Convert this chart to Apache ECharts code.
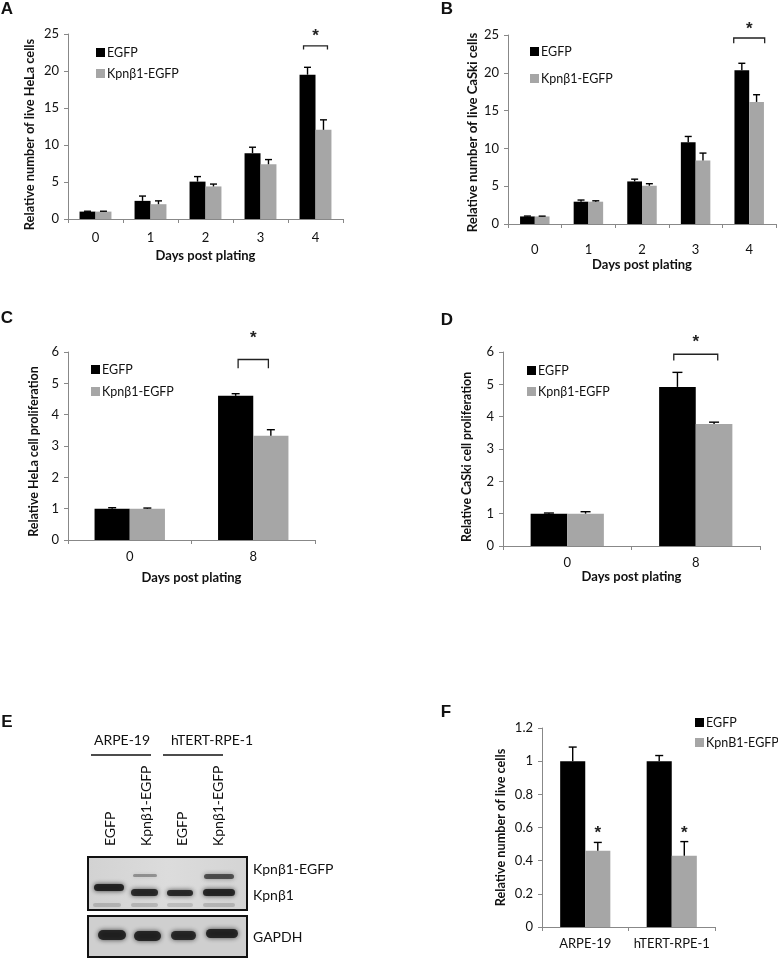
<!DOCTYPE html>
<html><head><meta charset="utf-8">
<script src="https://cdn.jsdelivr.net/npm/echarts@6/dist/echarts.min.js"></script>
<style>html,body{margin:0;padding:0;background:#fff}#c{width:778px;height:959px}</style>
</head><body><div id="c"></div>
<script>
// ---- categories ----
const daysAB = ['0', '1', '2', '3', '4'];
const daysCD = ['0', '8'];
const linesF = ['ARPE-19', 'hTERT-RPE-1'];
const legendMain = ['EGFP', 'Kpnβ1-EGFP'];
const legendF = ['EGFP', 'KpnB1-EGFP'];
// ---- panel A (HeLa, live cells) ----
const aEgfp = [1.0, 2.45, 5.05, 8.9, 19.5];
const aEgfpErr = [0.05, 0.65, 0.68, 0.8, 1.0];
const aKpn = [1.0, 2.0, 4.4, 7.4, 12.05];
const aKpnErr = [0.05, 0.45, 0.32, 0.63, 1.35];
// ---- panel B (CaSki, live cells) ----
const bEgfp = [1.0, 2.95, 5.63, 10.83, 20.33];
const bEgfpErr = [0.05, 0.22, 0.3, 0.75, 0.93];
const bKpn = [1.0, 2.95, 5.06, 8.4, 16.15];
const bKpnErr = [0.04, 0.12, 0.27, 0.98, 0.95];
// ---- panel C (HeLa proliferation) ----
const cEgfp = [1.0, 4.6];
const cEgfpErr = [0.03, 0.07];
const cKpn = [1.0, 3.33];
const cKpnErr = [0.02, 0.19];
// ---- panel D (CaSki proliferation) ----
const dEgfp = [1.0, 4.92];
const dEgfpErr = [0.02, 0.45];
const dKpn = [1.0, 3.77];
const dKpnErr = [0.06, 0.06];
// ---- panel F (RPE lines) ----
const fEgfp = [1.0, 1.0];
const fEgfpErr = [0.085, 0.034];
const fKpn = [0.46, 0.43];
const fKpnErr = [0.05, 0.085];
const fStarLevel = [0.567, 0.567];
// ---- significance brackets: [category index, bracket level, drop] ----
const aBracket = [4, 23.4, 0.5];
const bBracket = [4, 24.6, 0.7];
const cBracket = [1, 5.76, 0.28];
const dBracket = [1, 5.93, 0.19];
const aStar = 24.7, bStar = 25.7, cStar = 6.45, dStar = 6.31;
// ---- axis ranges ----
const yMaxAB = 25, yStepAB = 5;
const yMaxCD = 6, yStepCD = 1;
const yMaxF = 1.2, yStepF = 0.2;

const FONT = 'Lato';
const STAR_FONT = 'bold 17px "Liberation Sans", Arial';
const AXIS_COLOR = '#888';
const GRAY = '#a6a6a6';

const panels = [
  {cats: daysAB, e: aEgfp, ee: aEgfpErr, k: aKpn, ke: aKpnErr, max: yMaxAB, step: yStepAB,
   grid: {left: 68, top: 34, width: 275, height: 185}, gap: 0.42, cap: 7,
   yName: 'Relative number of live HeLa cells', yGap: 32, yFs: 12.8, yShift: 16,
   xName: 'Days post plating', xGap: 30, xMargin: 12,
   legend: {left: 91, top: 41, gap: 8}, legendData: legendMain,
   bracket: aBracket, star: aStar, hw: 0.75},
  {cats: daysAB, e: bEgfp, ee: bEgfpErr, k: bKpn, ke: bKpnErr, max: yMaxAB, step: yStepAB,
   grid: {left: 508, top: 35, width: 268, height: 189}, gap: 0.45, cap: 7,
   yName: 'Relative number of live CaSki cells', yGap: 29, yFs: 13.2, yShift: 6,
   xName: 'Days post plating', xGap: 34, xMargin: 19,
   legend: {left: 525, top: 40, gap: 14}, legendData: legendMain,
   bracket: bBracket, star: bStar, hw: 1.05},
  {cats: daysCD, e: cEgfp, ee: cEgfpErr, k: cKpn, ke: cKpnErr, max: yMaxCD, step: yStepCD,
   grid: {left: 68, top: 352, width: 247, height: 188}, gap: 0.43, cap: 8,
   yName: 'Relative HeLa cell proliferation', yGap: 28, yFs: 12.5, yShift: 11,
   xName: 'Days post plating', xGap: 31, xMargin: 10,
   legend: {left: 86, top: 358, gap: 9}, legendData: legendMain,
   bracket: cBracket, star: cStar, hw: 0.43},
  {cats: daysCD, e: dEgfp, ee: dEgfpErr, k: dKpn, ke: dKpnErr, max: yMaxCD, step: yStepCD,
   grid: {left: 503, top: 352, width: 257, height: 194}, gap: 0.43, cap: 10,
   yName: 'Relative CaSki cell proliferation', yGap: 30, yFs: 12.3, yShift: 16,
   xName: 'Days post plating', xGap: 18, xMargin: 10,
   legend: {left: 522, top: 359, gap: 8}, legendData: legendMain,
   bracket: dBracket, star: dStar, hw: 0.6},
  {cats: linesF, e: fEgfp, ee: fEgfpErr, k: fKpn, ke: fKpnErr, max: yMaxF, step: yStepF,
   grid: {left: 542, top: 728, width: 173, height: 199}, gap: 0.42, cap: 8,
   yName: 'Relative number of live cells', yGap: 35, yFs: 12.7, yShift: 0,
   xName: '', xGap: 0, xMargin: 10,
   legend: {left: 690, top: 711, gap: 7}, legendData: legendF,
   stars: fStarLevel}
];

function errRender(gap, cap) {
  return function (params, api) {
    const c = api.value(0), v = api.value(1), e = api.value(2), side = api.value(3);
    const band = api.size([1, 0])[0];
    const bw = band * (1 - gap) / 2;
    const p0 = api.coord([c, v]);
    const p1 = api.coord([c, v + e]);
    const x = p0[0] + side * bw / 2;
    const st = {stroke: '#000', lineWidth: 1.4};
    return {type: 'group', children: [
      {type: 'line', shape: {x1: x, y1: p0[1], x2: x, y2: p1[1]}, style: st},
      {type: 'line', shape: {x1: x - cap / 2, y1: p1[1], x2: x + cap / 2, y2: p1[1]}, style: st}
    ]};
  };
}
function bracketRender(gap, hwFrac) {
  return function (params, api) {
    const c = api.value(0), lvl = api.value(1), drop = api.value(2), starV = api.value(3);
    const band = api.size([1, 0])[0];
    const bw = band * (1 - gap) / 2;
    const p = api.coord([c, lvl]);
    const pd = api.coord([c, lvl - drop]);
    const ps = api.coord([c, starV]);
    const hw = bw * hwFrac;
    return {type: 'group', children: [
      {type: 'polyline', shape: {points: [[p[0] - hw, pd[1]], [p[0] - hw, p[1]], [p[0] + hw, p[1]], [p[0] + hw, pd[1]]]},
       style: {stroke: '#222', lineWidth: 1.3, fill: null}},
      {type: 'text', style: {text: '*', x: p[0], y: ps[1], align: 'center', verticalAlign: 'middle',
       font: STAR_FONT, fill: '#222'}}
    ]};
  };
}
function starRender(gap) {
  return function (params, api) {
    const c = api.value(0), s = api.value(1);
    const band = api.size([1, 0])[0];
    const bw = band * (1 - gap) / 2;
    const p = api.coord([c, s]);
    return {type: 'text', style: {text: '*', x: p[0] + bw / 2, y: p[1], align: 'center', verticalAlign: 'middle',
      font: STAR_FONT, fill: '#222'}};
  };
}

const option = {
  animation: false,
  textStyle: {fontFamily: FONT},
  grid: [], xAxis: [], yAxis: [], legend: [], series: [],
  graphic: []
};

panels.forEach((p, i) => {
  option.grid.push(Object.assign({containLabel: false}, p.grid));
  option.xAxis.push({
    type: 'category', gridIndex: i, data: p.cats,
    axisLine: {lineStyle: {color: AXIS_COLOR, width: 1}},
    axisTick: {show: true, length: 4, lineStyle: {color: AXIS_COLOR}},
    axisLabel: {color: '#111', fontSize: 13, fontFamily: FONT, margin: p.xMargin, interval: 0},
    name: p.xName, nameLocation: 'middle', nameGap: p.xGap,
    nameTextStyle: {fontWeight: 'bold', fontSize: 13, color: '#111', fontFamily: FONT}
  });
  option.yAxis.push({
    type: 'value', gridIndex: i, min: 0, max: p.max, interval: p.step,
    axisLine: {show: true, lineStyle: {color: AXIS_COLOR, width: 1}},
    axisTick: {show: true, length: 4, lineStyle: {color: AXIS_COLOR}},
    splitLine: {show: false},
    axisLabel: {color: '#111', fontSize: 13, fontFamily: FONT, margin: 9},
    name: p.yName, nameLocation: 'middle', nameGap: p.yGap, nameRotate: 90,
    nameTextStyle: {fontWeight: 'bold', fontSize: p.yFs, color: '#111', fontFamily: FONT,
      padding: [0, p.yShift, 0, 0]}
  });
  option.legend.push({
    left: p.legend.left, top: p.legend.top, orient: 'vertical', icon: 'rect',
    itemWidth: 9, itemHeight: 9, itemGap: p.legend.gap, data: p.legendData,
    selectedMode: false,
    textStyle: {fontSize: 12.5, fontFamily: FONT, color: '#111', padding: [0, 0, 0, -3]}
  });
  const gapPct = Math.round(p.gap * 100) + '%';
  option.series.push({
    type: 'bar', name: p.legendData[0], xAxisIndex: i, yAxisIndex: i, data: p.e,
    itemStyle: {color: '#000'}, barGap: '0%', barCategoryGap: gapPct
  });
  option.series.push({
    type: 'bar', name: p.legendData[1], xAxisIndex: i, yAxisIndex: i, data: p.k,
    itemStyle: {color: GRAY}, barGap: '0%', barCategoryGap: gapPct
  });
  const errData = p.e.map((v, j) => [j, v, p.ee[j], -1]).concat(p.k.map((v, j) => [j, v, p.ke[j], 1]));
  option.series.push({
    type: 'custom', xAxisIndex: i, yAxisIndex: i, data: errData, clip: false, z: 5,
    renderItem: errRender(p.gap, p.cap), encode: {x: 0, y: 1}, silent: true
  });
  if (p.bracket) {
    option.series.push({
      type: 'custom', xAxisIndex: i, yAxisIndex: i, clip: false, z: 5, silent: true,
      data: [[p.bracket[0], p.bracket[1], p.bracket[2], p.star]],
      renderItem: bracketRender(p.gap, p.hw), encode: {x: 0, y: 1}
    });
  }
  if (p.stars) {
    option.series.push({
      type: 'custom', xAxisIndex: i, yAxisIndex: i, clip: false, z: 5, silent: true,
      data: p.stars.map((s, j) => [j, s]),
      renderItem: starRender(p.gap), encode: {x: 0, y: 1}
    });
  }
});

// ---- panel letters ----
const letters = [['A', 7, 9], ['B', 447, 9], ['C', 7, 318], ['D', 447, 320], ['E', 7, 722], ['F', 446, 712]];
letters.forEach(l => option.graphic.push({
  type: 'text', x: l[1], y: l[2],
  style: {text: l[0], font: 'bold 17px "Liberation Sans", Arial', fill: '#111', align: 'center', verticalAlign: 'middle'}
}));

// ---- panel E: western blot illustration ----
const txt = (t, x, y, align) => ({type: 'text', x: x, y: y,
  style: {text: t, font: '14px ' + FONT, fill: '#111', align: align || 'center', verticalAlign: 'middle'}});
option.graphic.push(txt('ARPE-19', 122, 740));
option.graphic.push(txt('hTERT-RPE-1', 212, 740));
option.graphic.push({type: 'line', shape: {x1: 91, y1: 755, x2: 151, y2: 755}, style: {stroke: '#111', lineWidth: 1.5}});
option.graphic.push({type: 'line', shape: {x1: 163, y1: 755, x2: 223, y2: 755}, style: {stroke: '#111', lineWidth: 1.5}});
[['EGFP', 110], ['Kpnβ1-EGFP', 146], ['EGFP', 182], ['Kpnβ1-EGFP', 218]].forEach(l => {
  option.graphic.push({type: 'text', x: l[1], y: 846, rotation: Math.PI / 2,
    style: {text: l[0], font: '14px ' + FONT, fill: '#111', align: 'left', verticalAlign: 'middle'}});
});
option.graphic.push({type: 'rect', shape: {x: 88, y: 857, width: 159, height: 53},
  style: {fill: new echarts.graphic.LinearGradient(0, 0, 1, 0, [
    {offset: 0, color: '#d2d2d2'}, {offset: 0.5, color: '#dcdcdc'}, {offset: 1, color: '#d4d4d4'}]),
    stroke: '#111', lineWidth: 2}});
option.graphic.push({type: 'rect', shape: {x: 88, y: 916, width: 159, height: 41},
  style: {fill: '#cfcfcf', stroke: '#111', lineWidth: 2}});
const band = (x, y, w, h, alpha, blur) => ({type: 'rect', shape: {x: x, y: y, width: w, height: h, r: h / 2},
  style: {fill: 'rgba(25,25,25,' + alpha + ')', shadowBlur: blur, shadowColor: 'rgba(25,25,25,' + alpha + ')'}});
// Kpnb1 bands
option.graphic.push(band(94, 884, 30, 7, 0.9, 5));
option.graphic.push(band(131, 889, 27, 7, 0.85, 5));
option.graphic.push(band(167, 890, 26, 6, 0.85, 5));
option.graphic.push(band(203, 889, 32, 7, 0.88, 5));
// Kpnb1-EGFP bands
option.graphic.push(band(133, 874, 24, 3, 0.35, 4));
option.graphic.push(band(204, 874, 30, 5, 0.65, 5));
// faint lower bands
option.graphic.push(band(93, 903, 28, 4, 0.18, 5));
option.graphic.push(band(131, 903, 27, 4, 0.18, 5));
option.graphic.push(band(167, 903, 26, 4, 0.15, 5));
option.graphic.push(band(203, 903, 32, 4, 0.18, 5));
// GAPDH bands
option.graphic.push(band(98, 930, 28, 10, 0.88, 5));
option.graphic.push(band(134, 931, 27, 10, 0.88, 5));
option.graphic.push(band(171, 931, 25, 9, 0.85, 5));
option.graphic.push(band(206, 929, 32, 9, 0.88, 5));
option.graphic.push(txt('Kpnβ1-EGFP', 253, 869, 'left'));
option.graphic.push(txt('Kpnβ1', 253, 895, 'left'));
option.graphic.push(txt('GAPDH', 253, 937, 'left'));

const chart = echarts.init(document.getElementById('c'), null, {renderer: 'canvas'});
chart.setOption(option);
</script>
</body></html>
